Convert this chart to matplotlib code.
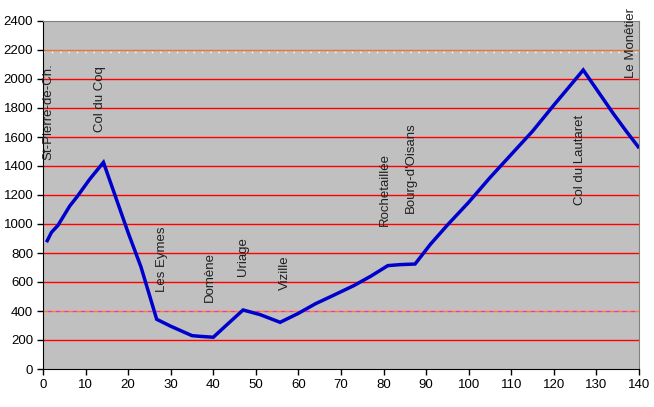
import matplotlib
matplotlib.use('Agg')
import matplotlib.pyplot as plt

# route profile: distance (km) vs altitude (m)
km = [1, 2, 3.5, 6.3, 8, 11, 14.2, 17.3, 20, 23, 25, 26.7, 30, 35, 37, 40, 43, 47, 51,
      55.7, 60, 64, 68, 73, 77, 81, 84, 87.4, 91, 95, 100, 105, 110, 115, 120, 124, 126.9,
      130, 134, 137, 139.8]
alt = [885, 943, 990, 1125, 1188, 1310, 1425, 1166, 940, 705, 510, 343, 295, 230, 225,
       219, 300, 407, 375, 322, 384, 450, 505, 575, 640, 713, 720, 724, 860, 993, 1150,
       1320, 1480, 1640, 1820, 1960, 2062, 1930, 1760, 1640, 1533]

places = ['St-Pierre-de-Ch.', 'Col du Coq', 'Les Eymes', 'Domène', 'Uriage', 'Vizille',
          'Rochetaillée', "Bourg-d'Oisans", 'Col du Lautaret', 'Le Monêtier']
place_km = [1.2, 13.4, 28, 39.2, 47, 56.8, 80.3, 86.4, 126.1, 138.1]
place_alt = [1441, 1636, 533, 464, 641, 545, 988, 1073, 1131, 2005]

red_lines = [200, 600, 800, 1000, 1200, 1400, 1600, 1800, 2000]

plt.rcParams['font.family'] = ['Liberation Sans', 'DejaVu Sans']
plt.rcParams['font.size'] = 9.5

fig = plt.figure(figsize=(6.54, 4.07), dpi=100)
ax = fig.add_axes([43/654, 1 - 369/407, 596/654, 348/407])
ax.set_facecolor('#c0c0c0')

for y in red_lines:
    ax.axhline(y, color='#ff0000', lw=1.0, zorder=1)
# odd lines at 400 and 2200
ax.axhline(2200, color='#e07838', lw=1.0, zorder=1)
ax.plot([0, 140], [2188, 2188], color='white', lw=1.0, ls=(0, (1, 5)), zorder=1)
ax.axhline(400, color='#ff8020', lw=1.0, ls=(0, (3, 3)), zorder=1)
ax.axhline(400, color='#ff30a0', lw=1.0, ls=(3, (3, 3)), zorder=1)

ax.plot(km, alt, color='#0000cc', lw=2.5, solid_joinstyle='miter', zorder=3)

for name, x, y in zip(places, place_km, place_alt):
    ax.text(x, y, name, rotation=90, ha='center', va='bottom', fontsize=9.5,
            color='#202020', clip_on=False, zorder=4)

ax.set_xlim(0, 140)
ax.set_ylim(0, 2400)
ax.set_xticks(range(0, 141, 10))
ax.set_yticks(range(0, 2401, 200))
ax.tick_params(direction='out', length=4, width=1, color='black', pad=3)
for s in ['top', 'right']:
    ax.spines[s].set_color('#808080')
for s in ['left', 'bottom']:
    ax.spines[s].set_color('black')

fig.savefig('out.png', dpi=100)
